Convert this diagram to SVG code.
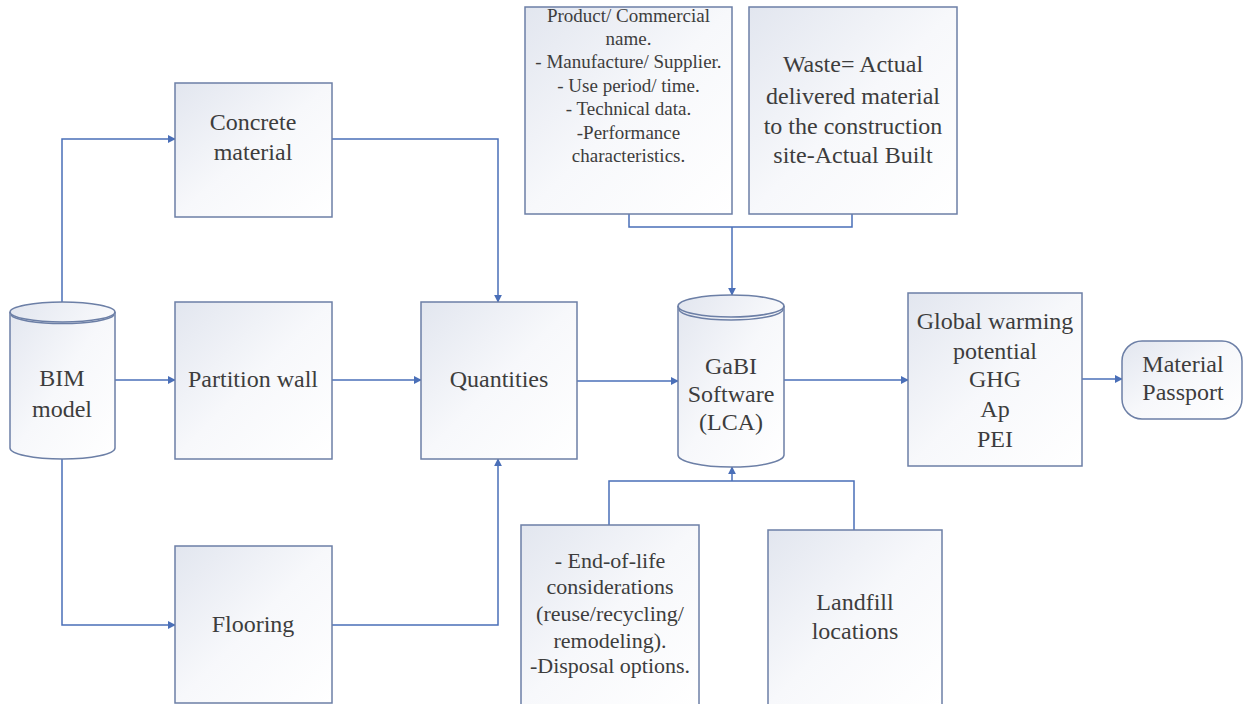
<svg xmlns="http://www.w3.org/2000/svg" width="1244" height="704" viewBox="0 0 1244 704">
<defs>
<linearGradient id="g" x1="0" y1="0" x2="1" y2="1">
<stop offset="0" stop-color="#e2e6ef"/>
<stop offset="0.5" stop-color="#f7f8fb"/>
<stop offset="1" stop-color="#ffffff"/>
</linearGradient>
<marker id="ah" viewBox="0 0 10 10" refX="9" refY="5" markerWidth="8" markerHeight="8" markerUnits="userSpaceOnUse" orient="auto">
<path d="M0,0 L10,5 L0,10 z" fill="#4a6fb8"/>
</marker>
<style>
.box{fill:url(#g);stroke:#6c7fa6;stroke-width:1.5}
.cyl{fill:url(#g);stroke:#6c7fa6;stroke-width:1.5}
.cl{fill:none;stroke:#6c7fa6;stroke-width:1.5}
.c{fill:none;stroke:#4a6fb8;stroke-width:1.5}
</style>
</defs>
<rect width="1244" height="704" fill="#ffffff"/>
<g id="connectors">
<path class="c" d="M62,303 V139 H175" marker-end="url(#ah)"/>
<path class="c" d="M62,459 V625 H175" marker-end="url(#ah)"/>
<path class="c" d="M115,380 H175" marker-end="url(#ah)"/>
<path class="c" d="M332,380 H421" marker-end="url(#ah)"/>
<path class="c" d="M332,139 H498 V302" marker-end="url(#ah)"/>
<path class="c" d="M332,625 H498 V459" marker-end="url(#ah)"/>
<path class="c" d="M577,381 H678" marker-end="url(#ah)"/>
<path class="c" d="M629,214 V227 H852 V214"/>
<path class="c" d="M732,227 V295" marker-end="url(#ah)"/>
<path class="c" d="M609,525 V481 H854 V530"/>
<path class="c" d="M732,481 V467" marker-end="url(#ah)"/>
<path class="c" d="M784,380 H908" marker-end="url(#ah)"/>
<path class="c" d="M1082,379 H1122" marker-end="url(#ah)"/>
</g>
<g font-family="Liberation Serif, serif" font-size="24" fill="#3d3d3d" text-anchor="middle">
<g id="bim">
<path class="cyl" d="M10,312 A52.5,10 0 0 1 115,312 V448 A52.5,11 0 0 1 10,448 Z"/>
<path class="cl" d="M10,312 A52.5,10 0 0 0 115,312"/>
<path class="cl" d="M11,315 A52,10 0 0 0 114,315"/>
<text x="62" y="386">BIM</text>
<text x="62" y="417">model</text>
</g>
<g id="concrete">
<rect class="box" x="175" y="83" width="157" height="134"/>
<text x="253" y="130">Concrete</text>
<text x="253" y="160">material</text>
</g>
<g id="partition">
<rect class="box" x="175" y="302" width="157" height="157"/>
<text x="253" y="387">Partition wall</text>
</g>
<g id="flooring">
<rect class="box" x="175" y="546" width="157" height="157"/>
<text x="253" y="632">Flooring</text>
</g>
<g id="quantities">
<rect class="box" x="421" y="302" width="156" height="157"/>
<text x="499" y="387">Quantities</text>
</g>
<g id="product" font-size="19">
<rect class="box" x="525" y="7" width="207" height="207"/>
<text x="628.5" y="22">Product/ Commercial</text>
<text x="628.5" y="45">name.</text>
<text x="628.5" y="68">- Manufacture/ Supplier.</text>
<text x="628.5" y="92">- Use period/ time.</text>
<text x="628.5" y="115">- Technical data.</text>
<text x="628.5" y="139">-Performance</text>
<text x="628.5" y="162">characteristics.</text>
</g>
<g id="waste">
<rect class="box" x="749" y="7" width="208" height="207"/>
<text x="853" y="72">Waste= Actual</text>
<text x="853" y="104">delivered material</text>
<text x="853" y="134">to the construction</text>
<text x="853" y="163">site-Actual Built</text>
</g>
<g id="gabi">
<path class="cyl" d="M678,306 A53,11 0 0 1 784,306 V455 A53,12 0 0 1 678,455 Z"/>
<path class="cl" d="M678,306 A53,11 0 0 0 784,306"/>
<path class="cl" d="M679,309 A52,11 0 0 0 783,309"/>
<text x="731" y="374">GaBI</text>
<text x="731" y="402">Software</text>
<text x="731" y="430">(LCA)</text>
</g>
<g id="endoflife" font-size="22">
<rect class="box" x="521" y="525" width="178" height="180"/>
<text x="610" y="568">- End-of-life</text>
<text x="610" y="594">considerations</text>
<text x="610" y="621">(reuse/recycling/</text>
<text x="610" y="648">remodeling).</text>
<text x="610" y="673">-Disposal options.</text>
</g>
<g id="landfill">
<rect class="box" x="768" y="530" width="174" height="175"/>
<text x="855" y="610">Landfill</text>
<text x="855" y="639">locations</text>
</g>
<g id="gwp">
<rect class="box" x="908" y="293" width="174" height="173"/>
<text x="995" y="329">Global warming</text>
<text x="995" y="359">potential</text>
<text x="995" y="387">GHG</text>
<text x="995" y="417">Ap</text>
<text x="995" y="447">PEI</text>
</g>
<g id="passport">
<rect class="box" x="1122" y="341" width="120" height="78" rx="20" ry="20"/>
<text x="1183" y="372">Material</text>
<text x="1183" y="400">Passport</text>
</g>
</g>
</svg>
